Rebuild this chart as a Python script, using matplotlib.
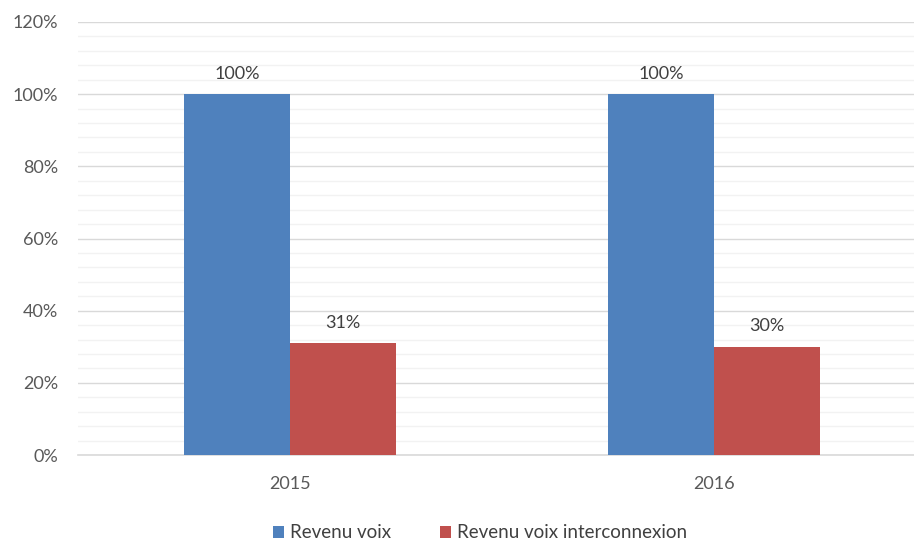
import numpy as np
import matplotlib
matplotlib.use("Agg")
import matplotlib.pyplot as plt
from matplotlib.ticker import MultipleLocator, FuncFormatter

# revenue shares per year
years = ["2015", "2016"]
revenu_voix = [100, 100]
revenu_interconnexion = [31, 30]
series_names = ["Revenu voix", "Revenu voix interconnexion"]

plt.rcParams["font.family"] = ["Lato", "DejaVu Sans"]
text_color = "#595959"
fs = 13

fig = plt.figure(figsize=(9.14, 5.41), dpi=100)
ax = fig.add_axes([78 / 914, 86 / 541, 836 / 914, 433 / 541])

x = np.arange(len(years))
width = 0.25
bars1 = ax.bar(x - width / 2, revenu_voix, width, color="#4f81bd", label=series_names[0], zorder=3)
bars2 = ax.bar(x + width / 2, revenu_interconnexion, width, color="#c0504d", label=series_names[1], zorder=3)

for bars in (bars1, bars2):
    for rect in bars:
        h = rect.get_height()
        ax.annotate(f"{h:.0f}%", (rect.get_x() + rect.get_width() / 2, h),
                    xytext=(0, 9), textcoords="offset points",
                    ha="center", va="bottom", fontsize=fs, color="#404040")

ax.set_ylim(0, 120)
ax.set_xlim(-0.5, (914 - 290) / 424)
ax.yaxis.set_major_locator(MultipleLocator(20))
ax.yaxis.set_minor_locator(MultipleLocator(4))
ax.yaxis.set_major_formatter(FuncFormatter(lambda v, p: f"{v:.0f}%"))
ax.grid(axis="y", which="major", color="#d9d9d9", linewidth=1.0, zorder=0)
ax.grid(axis="y", which="minor", color="#f2f2f2", linewidth=1.0, zorder=0)
ax.set_axisbelow(True)

ax.set_xticks(x)
ax.set_xticklabels(years)
ax.tick_params(axis="both", which="both", length=0, labelsize=fs, labelcolor=text_color)
ax.tick_params(axis="x", pad=15)
ax.tick_params(axis="y", pad=14.5)

for side in ("top", "right", "left"):
    ax.spines[side].set_visible(False)
ax.spines["bottom"].set_color("#d9d9d9")
ax.spines["bottom"].set_linewidth(1.2)

fig.legend(loc="center", bbox_to_anchor=(480 / 914, 1 - 533 / 541), ncol=2, frameon=False,
           fontsize=13.5, handlelength=0.6, handleheight=0.6, handletextpad=0.3,
           columnspacing=2.6, labelcolor="#404040")

plt.savefig("out.png", dpi=100)
